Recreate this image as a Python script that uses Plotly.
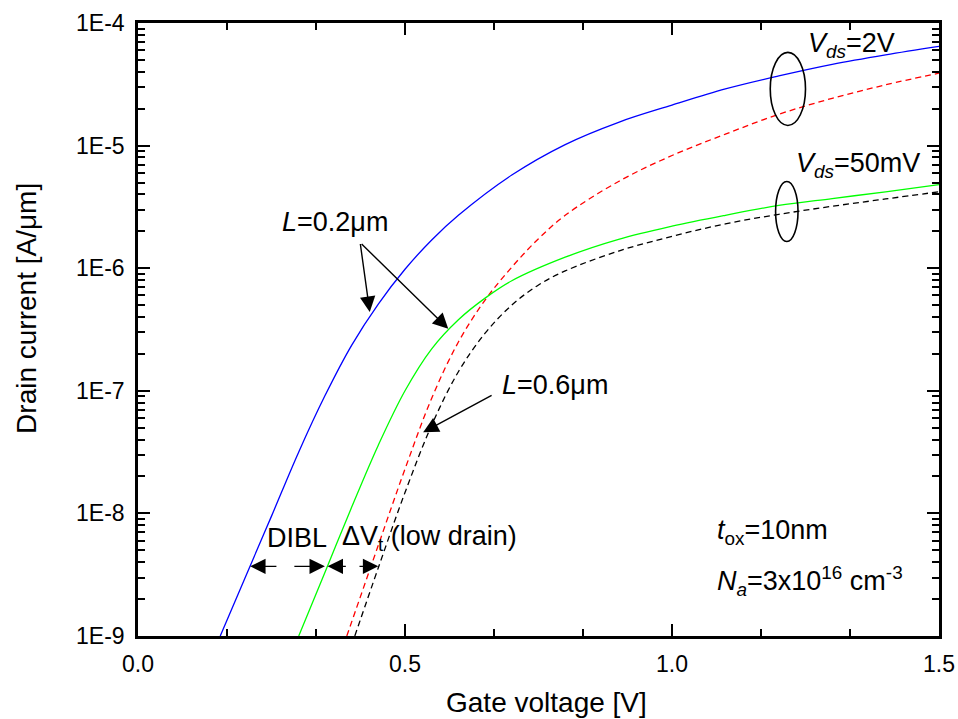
import numpy as np
import plotly.graph_objects as go

# ---------------- data ----------------
# L = 0.2 um, Vds = 2 V  (blue solid)
vg_short_hi = [0.154, 0.20, 0.25, 0.30, 0.35, 0.40, 0.45, 0.50, 0.55, 0.60, 0.70, 0.80, 0.90, 1.00, 1.10, 1.20, 1.30, 1.40, 1.50]
id_short_hi = [1.0e-9, 2.95e-9, 9.5e-9, 3.1e-8, 9.1e-8, 2.35e-7, 5.1e-7, 9.8e-7, 1.7e-6, 2.7e-6, 5.75e-6, 1.02e-5,
               1.55e-5, 2.14e-5, 2.9e-5, 3.7e-5, 4.6e-5, 5.5e-5, 6.45e-5]
# L = 0.2 um, Vds = 50 mV  (green solid)
vg_short_lo = [0.301, 0.35, 0.40, 0.45, 0.50, 0.55, 0.60, 0.65, 0.70, 0.80, 0.90, 1.00, 1.10, 1.20, 1.30, 1.40, 1.50]
id_short_lo = [1.0e-9, 3.3e-9, 1.12e-8, 3.6e-8, 1.0e-7, 2.2e-7, 3.8e-7, 5.7e-7, 7.9e-7, 1.23e-6, 1.72e-6, 2.2e-6,
               2.7e-6, 3.25e-6, 3.7e-6, 4.2e-6, 4.8e-6]
# L = 0.6 um, Vds = 2 V  (red dashed)
vg_long_hi = [0.391, 0.45, 0.50, 0.55, 0.60, 0.65, 0.70, 0.75, 0.80, 0.90, 1.00, 1.10, 1.20, 1.30, 1.40, 1.50]
id_long_hi = [1.0e-9, 5.5e-9, 2.3e-8, 8.7e-8, 2.5e-7, 5.5e-7, 1.02e-6, 1.74e-6, 2.7e-6, 5.1e-6, 8.3e-6, 1.24e-5,
              1.8e-5, 2.43e-5, 3.13e-5, 3.9e-5]
# L = 0.6 um, Vds = 50 mV  (black dashed)
vg_long_lo = [0.406, 0.45, 0.50, 0.55, 0.60, 0.65, 0.70, 0.75, 0.80, 0.90, 1.00, 1.10, 1.20, 1.30, 1.40, 1.50]
id_long_lo = [1.0e-9, 3.6e-9, 1.48e-8, 5.25e-8, 1.43e-7, 2.95e-7, 5.0e-7, 7.3e-7, 9.5e-7, 1.38e-6, 1.82e-6, 2.3e-6,
              2.75e-6, 3.2e-6, 3.67e-6, 4.2e-6]

x_tick_vals = [0.0, 0.5, 1.0, 1.5]
x_tick_text = ["0.0", "0.5", "1.0", "1.5"]
y_tick_vals = [1e-9, 1e-8, 1e-7, 1e-6, 1e-5, 1e-4]
y_tick_text = ["1E-9", "1E-8", "1E-7", "1E-6", "1E-5", "1E-4"]

X_RANGE = [0.0, 1.5]
Y_DEC = [-9, -4]
FONT = "Liberation Sans, Arial, sans-serif"


def pxf(v):
    return (v - X_RANGE[0]) / (X_RANGE[1] - X_RANGE[0])


def pyf(i):
    return (np.log10(i) - Y_DEC[0]) / (Y_DEC[1] - Y_DEC[0])


def ly(i):
    return float(np.log10(i))


fig = go.Figure()
LW = 1.3
fig.add_trace(go.Scatter(x=vg_short_hi, y=id_short_hi, mode="lines",
                         line=dict(color="#0000FF", width=LW, shape="spline", smoothing=1.0)))
fig.add_trace(go.Scatter(x=vg_long_hi, y=id_long_hi, mode="lines",
                         line=dict(color="#FF0000", width=LW, dash="6px,4px", shape="spline", smoothing=1.0)))
fig.add_trace(go.Scatter(x=vg_short_lo, y=id_short_lo, mode="lines",
                         line=dict(color="#00FF00", width=LW, shape="spline", smoothing=1.0)))
fig.add_trace(go.Scatter(x=vg_long_lo, y=id_long_lo, mode="lines",
                         line=dict(color="#000000", width=LW, dash="6px,4px", shape="spline", smoothing=1.0)))

minor_y = [m * 10.0 ** k for k in range(-9, -4) for m in range(2, 10)]

axis_common = dict(showline=True, linewidth=2.5, linecolor="black", mirror="allticks",
                   ticks="inside", ticklen=12, tickwidth=2, tickcolor="black",
                   showgrid=False, zeroline=False, automargin=False,
                   tickfont=dict(family=FONT, size=23, color="black"))

fig.update_xaxes(range=X_RANGE, tickmode="array", tickvals=x_tick_vals, ticktext=x_tick_text,
                 minor=dict(ticks="inside", ticklen=7, tickwidth=2, tickcolor="black",
                            dtick=0.5 / 3, tick0=0, showgrid=False),
                 ticklabelstandoff=6, **axis_common)
fig.update_yaxes(type="log", range=Y_DEC, tickmode="array", tickvals=y_tick_vals, ticktext=y_tick_text,
                 minor=dict(ticks="inside", ticklen=7, tickwidth=2, tickcolor="black",
                            tickmode="array", tickvals=minor_y, showgrid=False),
                 ticklabelstandoff=6, **axis_common)

ann = []
TF = dict(family=FONT, size=27, color="black")

# axis titles
ann.append(dict(text="Gate voltage [V]", xref="paper", yref="paper", x=0.51, y=-0.108,
                xanchor="center", yanchor="middle", showarrow=False,
                font=dict(family=FONT, size=28, color="black")))
ann.append(dict(text="Drain current [A/μm]", xref="paper", yref="paper", x=-0.14, y=0.535,
                xanchor="center", yanchor="middle", textangle=-90, showarrow=False,
                font=dict(family=FONT, size=28, color="black")))


# text labels (data coordinates)
def txt(s, v, i):
    ann.append(dict(text=s, x=v, y=ly(i), xref="x", yref="y", xanchor="left", yanchor="middle",
                    showarrow=False, font=TF))


txt("<i>L</i>=0.2μm", 0.266, 2.4e-6)
txt("<i>L</i>=0.6μm", 0.678, 1.12e-7)
txt("<i>V</i><sub><i>ds</i></sub>=2V", 1.251, 6.6e-5)
txt("<i>V</i><sub><i>ds</i></sub>=50mV", 1.229, 6.9e-6)
txt("DIBL", 0.238, 6.3e-9)
txt("ΔV<sub>t</sub> (low drain)", 0.378, 6.3e-9)
txt("<i>t</i><sub>ox</sub>=10nm", 1.080, 7.0e-9)
txt("<i>N</i><sub><i>a</i></sub>=3x10<sup>16</sup> cm<sup>-3</sup>", 1.080, 2.8e-9)


def arrow(v_head, i_head, v_tail, i_tail, size=2.2):
    ann.append(dict(text="", x=v_head, y=ly(i_head), ax=v_tail, ay=ly(i_tail),
                    xref="x", yref="y", axref="x", ayref="y", showarrow=True,
                    arrowhead=2, arrowsize=size, arrowwidth=1.4, arrowcolor="black", standoff=0))


# L = 0.2 um pointers
arrow(0.434, 4.4e-7, 0.416, 1.62e-6)
arrow(0.581, 3.2e-7, 0.416, 1.62e-6)
# L = 0.6 um pointer
arrow(0.534, 4.6e-8, 0.665, 9.3e-8)
# DIBL and dVt arrows
I_ARR = 3.7e-9
arrow(0.210, I_ARR, 0.262, I_ARR)
arrow(0.350, I_ARR, 0.290, I_ARR)
arrow(0.355, I_ARR, 0.392, I_ARR)
arrow(0.450, I_ARR, 0.412, I_ARR)

shapes = []
# ellipses grouping curves (paper coordinates from data positions)
for vc, ic, dv, ddec in [(1.217, 2.9e-5, 0.033, 0.298), (1.215, 2.9e-6, 0.021, 0.245)]:
    shapes.append(dict(type="circle", xref="paper", yref="paper",
                       x0=pxf(vc - dv), x1=pxf(vc + dv),
                       y0=pyf(ic) - ddec / 5, y1=pyf(ic) + ddec / 5,
                       line=dict(color="black", width=1.6)))

fig.update_layout(width=958, height=719, margin=dict(l=138, r=19, t=23, b=83),
                  plot_bgcolor="white", paper_bgcolor="white", showlegend=False,
                  annotations=ann, shapes=shapes,
                  font=dict(family=FONT, color="black"))

fig.write_html("out.html")
